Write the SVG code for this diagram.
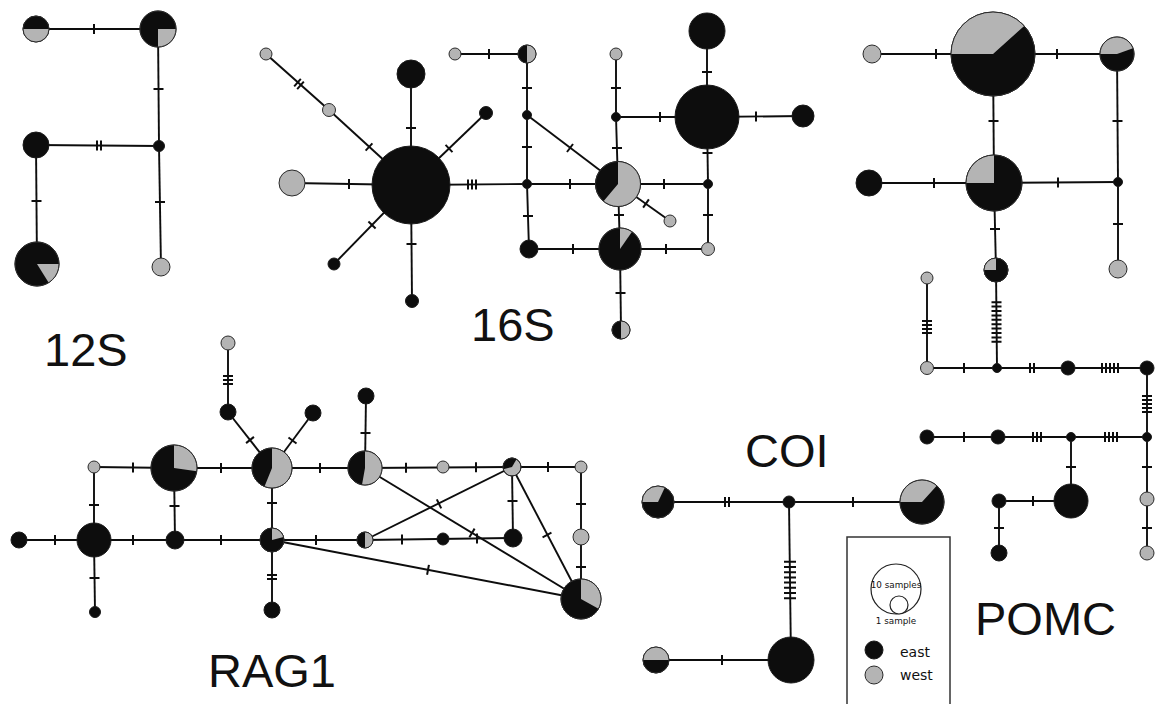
<svg xmlns="http://www.w3.org/2000/svg" xmlns:xlink="http://www.w3.org/1999/xlink" width="1161" height="704" viewBox="0 0 1161 704">
  <style>
    .e line { stroke: #0d0d0d; stroke-width: 1.9; fill: none; }
    .tk { stroke: #0d0d0d; stroke-width: 2; fill: none; }
    .k { fill: #0d0d0d; stroke: #1a1a1a; stroke-width: 1; }
    .g { fill: #b4b4b4; stroke: #2a2a2a; stroke-width: 1; }
    .w { fill: #b4b4b4; stroke: none; }
    .wk { fill: #0d0d0d; stroke: none; }
    .o { fill: none; stroke: #2a2a2a; stroke-width: 1; }
    .lbl { font-family: "Liberation Sans", Arial, sans-serif; font-size: 47px; fill: #111; }
    .sm { font-family: "DejaVu Sans", Verdana, sans-serif; font-size: 8.8px; fill: #111; text-anchor: middle; }
    .lg { font-family: "DejaVu Sans", Verdana, sans-serif; font-size: 14px; fill: #111; }
  </style>
  <defs>
    <path id="t1" d="M0,-5V5"/>
    <path id="t2" d="M-2,-5V5M2,-5V5"/>
    <path id="t3" d="M-4,-5V5M0,-5V5M4,-5V5"/>
    <path id="t4" d="M-6,-5V5M-2,-5V5M2,-5V5M6,-5V5"/>
    <path id="t5" d="M-8,-5V5M-4,-5V5M0,-5V5M4,-5V5M8,-5V5"/>
    <path id="t8" d="M-18.2,-6V6M-13,-6V6M-7.8,-6V6M-2.6,-6V6M2.6,-6V6M7.8,-6V6M13,-6V6M18.2,-6V6"/>
    <path id="t10" d="M-19.8,-5V5M-15.4,-5V5M-11,-5V5M-6.6,-5V5M-2.2,-5V5M2.2,-5V5M6.6,-5V5M11,-5V5M15.4,-5V5M19.8,-5V5"/>
  </defs>
  <rect width="1161" height="704" fill="#fff"/>

  <!-- ===== connectors ===== -->
  <g id="connectors">
    <g class="e">
      <!-- 12S -->
      <line x1="36" y1="29" x2="158" y2="29"/>
      <line x1="158" y1="29" x2="159" y2="146"/>
      <line x1="36" y1="145" x2="159" y2="146"/>
      <line x1="159" y1="146" x2="161" y2="267"/>
      <line x1="36" y1="145" x2="37" y2="264"/>
      <!-- 16S -->
      <line x1="411" y1="185" x2="411" y2="74"/>
      <line x1="411" y1="185" x2="292" y2="183"/>
      <line x1="266" y1="54" x2="329" y2="110"/>
      <line x1="329" y1="110" x2="411" y2="185"/>
      <line x1="411" y1="185" x2="334" y2="264"/>
      <line x1="411" y1="185" x2="412" y2="301"/>
      <line x1="411" y1="185" x2="486" y2="113"/>
      <line x1="411" y1="185" x2="527" y2="184"/>
      <line x1="455" y1="54" x2="527" y2="54"/>
      <line x1="527" y1="54" x2="527" y2="115"/>
      <line x1="527" y1="115" x2="527" y2="184"/>
      <line x1="527" y1="184" x2="529" y2="249"/>
      <line x1="527" y1="184" x2="618" y2="184"/>
      <line x1="527" y1="115" x2="618" y2="184"/>
      <line x1="616" y1="54" x2="616" y2="117"/>
      <line x1="616" y1="117" x2="707" y2="117"/>
      <line x1="616" y1="117" x2="618" y2="184"/>
      <line x1="618" y1="184" x2="708" y2="184"/>
      <line x1="618" y1="184" x2="670" y2="221"/>
      <line x1="618" y1="184" x2="620" y2="249"/>
      <line x1="529" y1="249" x2="620" y2="249"/>
      <line x1="620" y1="249" x2="708" y2="249"/>
      <line x1="708" y1="184" x2="708" y2="249"/>
      <line x1="708" y1="184" x2="707" y2="117"/>
      <line x1="707" y1="117" x2="707" y2="31"/>
      <line x1="707" y1="117" x2="803" y2="116"/>
      <line x1="620" y1="249" x2="621" y2="330"/>
      <!-- POMC -->
      <line x1="872" y1="54" x2="993" y2="54"/>
      <line x1="993" y1="54" x2="1117" y2="54"/>
      <line x1="993" y1="54" x2="994" y2="183"/>
      <line x1="1117" y1="54" x2="1118" y2="182"/>
      <line x1="994" y1="183" x2="1118" y2="182"/>
      <line x1="869" y1="183" x2="994" y2="183"/>
      <line x1="1118" y1="182" x2="1118" y2="269"/>
      <line x1="994" y1="183" x2="996" y2="270"/>
      <line x1="927" y1="278" x2="927" y2="368"/>
      <line x1="996" y1="270" x2="997" y2="368"/>
      <line x1="927" y1="368" x2="1147" y2="368"/>
      <line x1="1147" y1="368" x2="1147" y2="553"/>
      <line x1="927" y1="437" x2="1147" y2="437"/>
      <line x1="1071" y1="437" x2="1071" y2="501"/>
      <line x1="1071" y1="501" x2="999" y2="501"/>
      <line x1="999" y1="501" x2="999" y2="553"/>
      <!-- COI -->
      <line x1="658" y1="502" x2="922" y2="502"/>
      <line x1="789" y1="502" x2="791" y2="660"/>
      <line x1="656" y1="660" x2="791" y2="660"/>
      <!-- RAG1 -->
      <line x1="228" y1="343" x2="228" y2="412"/>
      <line x1="228" y1="412" x2="272" y2="468"/>
      <line x1="313" y1="413" x2="272" y2="468"/>
      <line x1="94" y1="467" x2="174" y2="468"/>
      <line x1="174" y1="468" x2="272" y2="468"/>
      <line x1="94" y1="467" x2="94" y2="540"/>
      <line x1="19" y1="540" x2="94" y2="540"/>
      <line x1="94" y1="540" x2="175" y2="540"/>
      <line x1="174" y1="468" x2="175" y2="540"/>
      <line x1="94" y1="540" x2="95" y2="612"/>
      <line x1="175" y1="540" x2="272" y2="540"/>
      <line x1="272" y1="468" x2="272" y2="540"/>
      <line x1="272" y1="540" x2="272" y2="610"/>
      <line x1="272" y1="468" x2="365" y2="468"/>
      <line x1="272" y1="540" x2="365" y2="540"/>
      <line x1="272" y1="540" x2="581" y2="599"/>
      <line x1="366" y1="396" x2="365" y2="468"/>
      <line x1="365" y1="468" x2="512" y2="467"/>
      <line x1="512" y1="467" x2="581" y2="467"/>
      <line x1="581" y1="467" x2="581" y2="599"/>
      <line x1="512" y1="467" x2="513" y2="538"/>
      <line x1="512" y1="467" x2="581" y2="599"/>
      <line x1="365" y1="540" x2="513" y2="538"/>
      <line x1="365" y1="468" x2="581" y2="599"/>
      <line x1="365" y1="540" x2="512" y2="467"/>
    </g>
    <!-- mutation ticks -->
    <g class="tk">
      <!-- 12S -->
      <use xlink:href="#t1" transform="translate(94,29)"/>
      <use xlink:href="#t1" transform="translate(158.5,89) rotate(90)"/>
      <use xlink:href="#t2" transform="translate(99,145.5)"/>
      <use xlink:href="#t1" transform="translate(160,202) rotate(90)"/>
      <use xlink:href="#t1" transform="translate(36.5,201) rotate(90)"/>
      <!-- 16S -->
      <use xlink:href="#t1" transform="translate(411,128) rotate(90)"/>
      <use xlink:href="#t1" transform="translate(349,184)"/>
      <use xlink:href="#t2" transform="translate(299,84) rotate(41.6)"/>
      <use xlink:href="#t1" transform="translate(369,147) rotate(42.4)"/>
      <use xlink:href="#t1" transform="translate(372,225) rotate(134.3)"/>
      <use xlink:href="#t1" transform="translate(411.5,244) rotate(90)"/>
      <use xlink:href="#t1" transform="translate(449,148.5) rotate(-43.8)"/>
      <use xlink:href="#t3" transform="translate(472,184.5)"/>
      <use xlink:href="#t1" transform="translate(489,54)"/>
      <use xlink:href="#t1" transform="translate(527,88) rotate(90)"/>
      <use xlink:href="#t1" transform="translate(527,147) rotate(90)"/>
      <use xlink:href="#t1" transform="translate(528,216) rotate(90)"/>
      <use xlink:href="#t1" transform="translate(570,184)"/>
      <use xlink:href="#t1" transform="translate(570,148) rotate(37.2)"/>
      <use xlink:href="#t1" transform="translate(616,88) rotate(90)"/>
      <use xlink:href="#t1" transform="translate(660,117)"/>
      <use xlink:href="#t1" transform="translate(617,148) rotate(90)"/>
      <use xlink:href="#t1" transform="translate(664,184)"/>
      <use xlink:href="#t1" transform="translate(646,203.5) rotate(35.4)"/>
      <use xlink:href="#t1" transform="translate(619,215) rotate(90)"/>
      <use xlink:href="#t1" transform="translate(573,249)"/>
      <use xlink:href="#t1" transform="translate(666,249)"/>
      <use xlink:href="#t1" transform="translate(708,215) rotate(90)"/>
      <use xlink:href="#t1" transform="translate(707.5,153) rotate(90)"/>
      <use xlink:href="#t1" transform="translate(707,72) rotate(90)"/>
      <use xlink:href="#t1" transform="translate(756,116.5)"/>
      <use xlink:href="#t1" transform="translate(620.5,293) rotate(90)"/>
      <!-- POMC -->
      <use xlink:href="#t1" transform="translate(936,54)"/>
      <use xlink:href="#t1" transform="translate(1057,54)"/>
      <use xlink:href="#t1" transform="translate(993.5,121) rotate(90)"/>
      <use xlink:href="#t1" transform="translate(1117.5,121) rotate(90)"/>
      <use xlink:href="#t1" transform="translate(1058,182.5)"/>
      <use xlink:href="#t1" transform="translate(934,183)"/>
      <use xlink:href="#t1" transform="translate(1118,224) rotate(90)"/>
      <use xlink:href="#t1" transform="translate(995,229) rotate(90)"/>
      <use xlink:href="#t4" transform="translate(927,327) rotate(90)"/>
      <use xlink:href="#t10" transform="translate(996.5,322) rotate(90)"/>
      <use xlink:href="#t1" transform="translate(964,368)"/>
      <use xlink:href="#t2" transform="translate(1032,368)"/>
      <use xlink:href="#t5" transform="translate(1110,368)"/>
      <use xlink:href="#t5" transform="translate(1147,404) rotate(90)"/>
      <use xlink:href="#t1" transform="translate(964,437)"/>
      <use xlink:href="#t3" transform="translate(1037,437)"/>
      <use xlink:href="#t4" transform="translate(1111,437)"/>
      <use xlink:href="#t1" transform="translate(1071,467) rotate(90)"/>
      <use xlink:href="#t1" transform="translate(1033,501)"/>
      <use xlink:href="#t1" transform="translate(999,528) rotate(90)"/>
      <use xlink:href="#t1" transform="translate(1147,467) rotate(90)"/>
      <use xlink:href="#t1" transform="translate(1147,528) rotate(90)"/>
      <!-- COI -->
      <use xlink:href="#t2" transform="translate(727,502)"/>
      <use xlink:href="#t1" transform="translate(853,502)"/>
      <use xlink:href="#t8" transform="translate(790,580) rotate(90)"/>
      <use xlink:href="#t1" transform="translate(722,660)"/>
      <!-- RAG1 -->
      <use xlink:href="#t3" transform="translate(228,380) rotate(90)"/>
      <use xlink:href="#t1" transform="translate(250,440) rotate(51.8)"/>
      <use xlink:href="#t1" transform="translate(292.5,440.5) rotate(126.7)"/>
      <use xlink:href="#t1" transform="translate(133,467.5)"/>
      <use xlink:href="#t1" transform="translate(221,468)"/>
      <use xlink:href="#t1" transform="translate(94,505) rotate(90)"/>
      <use xlink:href="#t1" transform="translate(55,540)"/>
      <use xlink:href="#t1" transform="translate(133,540)"/>
      <use xlink:href="#t1" transform="translate(174.5,506) rotate(90)"/>
      <use xlink:href="#t1" transform="translate(94.5,578) rotate(90)"/>
      <use xlink:href="#t1" transform="translate(221,540)"/>
      <use xlink:href="#t1" transform="translate(272,503) rotate(90)"/>
      <use xlink:href="#t2" transform="translate(272,577) rotate(90)"/>
      <use xlink:href="#t1" transform="translate(320,468)"/>
      <use xlink:href="#t1" transform="translate(316,540)"/>
      <use xlink:href="#t1" transform="translate(428,569.8) rotate(10.8)"/>
      <use xlink:href="#t1" transform="translate(365.5,433) rotate(90)"/>
      <use xlink:href="#t1" transform="translate(406,467.7)"/>
      <use xlink:href="#t1" transform="translate(476,467.2)"/>
      <use xlink:href="#t1" transform="translate(548,467)"/>
      <use xlink:href="#t1" transform="translate(581,504) rotate(90)"/>
      <use xlink:href="#t1" transform="translate(581,567) rotate(90)"/>
      <use xlink:href="#t1" transform="translate(512.5,501) rotate(90)"/>
      <use xlink:href="#t1" transform="translate(547,535) rotate(62.4)"/>
      <use xlink:href="#t1" transform="translate(402,539.5)"/>
      <use xlink:href="#t1" transform="translate(477,538.5)"/>
      <use xlink:href="#t1" transform="translate(472,532.9) rotate(31.2)"/>
      <use xlink:href="#t1" transform="translate(439,503.9) rotate(-26.4)"/>
    </g>
  </g>

  <!-- ===== 12S haplotypes ===== -->
  <g id="s12-a"><circle class="k" cx="36" cy="29" r="13"/><path class="w" d="M36 29 L49 29 A13 13 0 0 1 23 29 Z"/><circle class="o" cx="36" cy="29" r="13"/></g>
  <g id="s12-b"><circle class="k" cx="158" cy="29" r="18"/><path class="w" d="M158 29 L176 29 A18 18 0 0 1 158 47 Z"/><circle class="o" cx="158" cy="29" r="18"/></g>
  <g id="s12-c"><circle class="k" cx="36" cy="145" r="13"/></g>
  <g id="s12-d"><circle class="k" cx="37" cy="264" r="22"/><path class="w" d="M37 264 L59 264 A22 22 0 0 1 48.7 282.7 Z"/><circle class="o" cx="37" cy="264" r="22"/></g>
  <g id="s12-j"><circle class="k" cx="159" cy="146" r="5.5"/></g>
  <g id="s12-e"><circle class="g" cx="161" cy="267" r="9"/></g>

  <!-- ===== 16S haplotypes ===== -->
  <g id="s16-hub"><circle class="k" cx="411" cy="185" r="39"/></g>
  <g id="s16-top"><circle class="k" cx="411" cy="74" r="14"/></g>
  <g id="s16-left"><circle class="g" cx="292" cy="183" r="13"/></g>
  <g id="s16-g1"><circle class="g" cx="266" cy="54" r="6"/></g>
  <g id="s16-g2"><circle class="g" cx="329" cy="110" r="6.5"/></g>
  <g id="s16-ll"><circle class="k" cx="334" cy="264" r="6"/></g>
  <g id="s16-bot"><circle class="k" cx="412" cy="301" r="6.5"/></g>
  <g id="s16-ur"><circle class="k" cx="486" cy="113" r="6.5"/></g>
  <g id="s16-j1"><circle class="k" cx="527" cy="115" r="4.5"/></g>
  <g id="s16-j2"><circle class="k" cx="527" cy="184" r="4.5"/></g>
  <g id="s16-gs"><circle class="g" cx="455" cy="54" r="6"/></g>
  <g id="s16-h1"><circle class="k" cx="527" cy="54" r="9"/><path class="w" d="M527 54 L527 45 A9 9 0 0 1 527 63 Z"/><circle class="o" cx="527" cy="54" r="9"/></g>
  <g id="s16-k"><circle class="k" cx="529" cy="249" r="9"/></g>
  <g id="s16-j3"><circle class="k" cx="616" cy="117" r="4.5"/></g>
  <g id="s16-g3"><circle class="g" cx="616" cy="54" r="6"/></g>
  <g id="s16-p1"><circle class="k" cx="618" cy="184" r="22.5"/><path class="w" d="M618 184 L618 161.5 A22.5 22.5 0 1 1 603.5 201.2 Z"/><circle class="o" cx="618" cy="184" r="22.5"/></g>
  <g id="s16-j4"><circle class="k" cx="708" cy="184" r="4.5"/></g>
  <g id="s16-g4"><circle class="g" cx="670" cy="221" r="6"/></g>
  <g id="s16-p2"><circle class="k" cx="620" cy="249" r="21"/><path class="w" d="M620 249 L620 228 A21 21 0 0 1 632 231.8 Z"/><circle class="o" cx="620" cy="249" r="21"/></g>
  <g id="s16-g5"><circle class="g" cx="708" cy="249" r="6.5"/></g>
  <g id="s16-bb"><circle class="k" cx="707" cy="117" r="32"/></g>
  <g id="s16-bt"><circle class="k" cx="707" cy="31" r="18"/></g>
  <g id="s16-br"><circle class="k" cx="803" cy="116" r="11"/></g>
  <g id="s16-h2"><circle class="k" cx="621" cy="330" r="9"/><path class="w" d="M621 330 L621 321 A9 9 0 0 1 621 339 Z"/><circle class="o" cx="621" cy="330" r="9"/></g>

  <!-- ===== POMC haplotypes ===== -->
  <g id="pomc-gl"><circle class="g" cx="872" cy="54" r="9"/></g>
  <g id="pomc-big"><circle class="k" cx="993" cy="54" r="42"/><path class="w" d="M993 54 L951 54 A42 42 0 0 1 1024.2 25.9 Z"/><circle class="o" cx="993" cy="54" r="42"/></g>
  <g id="pomc-rp"><circle class="k" cx="1117" cy="54" r="17"/><path class="w" d="M1117 54 L1100 54 A17 17 0 0 1 1133 48.2 Z"/><circle class="o" cx="1117" cy="54" r="17"/></g>
  <g id="pomc-mp"><circle class="k" cx="994" cy="183" r="28"/><path class="w" d="M994 183 L966 183 A28 28 0 0 1 994 155 Z"/><circle class="o" cx="994" cy="183" r="28"/></g>
  <g id="pomc-kl"><circle class="k" cx="869" cy="183" r="13"/></g>
  <g id="pomc-j1"><circle class="k" cx="1118" cy="182" r="4.5"/></g>
  <g id="pomc-g2"><circle class="g" cx="1118" cy="269" r="9"/></g>
  <g id="pomc-sp"><circle class="k" cx="996" cy="270" r="12"/><path class="w" d="M996 270 L984 270 A12 12 0 0 1 996 258 Z"/><circle class="o" cx="996" cy="270" r="12"/></g>
  <g id="pomc-g3"><circle class="g" cx="927" cy="278" r="6"/></g>
  <g id="pomc-g4"><circle class="g" cx="927" cy="368" r="6.5"/></g>
  <g id="pomc-j2"><circle class="k" cx="997" cy="368" r="4.5"/></g>
  <g id="pomc-k1"><circle class="k" cx="1068" cy="368" r="7"/></g>
  <g id="pomc-k2"><circle class="k" cx="1147" cy="368" r="7"/></g>
  <g id="pomc-j3"><circle class="k" cx="1147" cy="437" r="4.5"/></g>
  <g id="pomc-k3"><circle class="k" cx="927" cy="437" r="7"/></g>
  <g id="pomc-k4"><circle class="k" cx="998" cy="437" r="7"/></g>
  <g id="pomc-j4"><circle class="k" cx="1071" cy="437" r="4.5"/></g>
  <g id="pomc-k5"><circle class="k" cx="1071" cy="501" r="17"/></g>
  <g id="pomc-k6"><circle class="k" cx="999" cy="501" r="7"/></g>
  <g id="pomc-k7"><circle class="k" cx="999" cy="553" r="8"/></g>
  <g id="pomc-g5"><circle class="g" cx="1147" cy="499" r="7"/></g>
  <g id="pomc-g6"><circle class="g" cx="1147" cy="553" r="7"/></g>

  <!-- ===== COI haplotypes ===== -->
  <g id="coi-l"><circle class="k" cx="658" cy="502" r="16"/><path class="w" d="M658 502 L642 502 A16 16 0 0 1 664.8 487.5 Z"/><circle class="o" cx="658" cy="502" r="16"/></g>
  <g id="coi-j"><circle class="k" cx="789" cy="502" r="6"/></g>
  <g id="coi-r"><circle class="k" cx="922" cy="502" r="22"/><path class="w" d="M922 502 L900 502 A22 22 0 0 1 936.7 485.7 Z"/><circle class="o" cx="922" cy="502" r="22"/></g>
  <g id="coi-big"><circle class="k" cx="791" cy="660" r="23"/></g>
  <g id="coi-bl"><circle class="k" cx="656" cy="660" r="13"/><path class="w" d="M656 660 L643 660 A13 13 0 0 1 669 660 Z"/><circle class="o" cx="656" cy="660" r="13"/></g>

  <!-- ===== RAG1 haplotypes ===== -->
  <g id="rag-gt"><circle class="g" cx="228" cy="343" r="7"/></g>
  <g id="rag-b1"><circle class="k" cx="228" cy="412" r="8"/></g>
  <g id="rag-b2"><circle class="k" cx="313" cy="413" r="8"/></g>
  <g id="rag-pa"><circle class="k" cx="272" cy="468" r="20"/><path class="w" d="M272 468 L272 448 A20 20 0 1 1 264.5 486.5 Z"/><circle class="o" cx="272" cy="468" r="20"/></g>
  <g id="rag-pb"><circle class="k" cx="174" cy="468" r="23"/><path class="w" d="M174 468 L174 445 A23 23 0 0 1 196.8 471.2 Z"/><circle class="o" cx="174" cy="468" r="23"/></g>
  <g id="rag-gs"><circle class="g" cx="94" cy="467" r="6"/></g>
  <g id="rag-bk"><circle class="k" cx="94" cy="540" r="17"/></g>
  <g id="rag-bl"><circle class="k" cx="19" cy="540" r="8"/></g>
  <g id="rag-b175"><circle class="k" cx="175" cy="540" r="9"/></g>
  <g id="rag-bs"><circle class="k" cx="95" cy="612" r="5.5"/></g>
  <g id="rag-p3"><circle class="k" cx="272" cy="540" r="12"/><path class="w" d="M272 540 L272 528 A12 12 0 0 1 283.6 536.9 Z"/><circle class="o" cx="272" cy="540" r="12"/></g>
  <g id="rag-b610"><circle class="k" cx="272" cy="610" r="8"/></g>
  <g id="rag-p4"><circle class="k" cx="365" cy="468" r="17"/><path class="w" d="M365 468 L365 451 A17 17 0 1 1 362 484.7 Z"/><circle class="o" cx="365" cy="468" r="17"/></g>
  <g id="rag-hh"><circle class="k" cx="365" cy="540" r="8"/><path class="w" d="M365 540 L365 532 A8 8 0 0 1 365 548 Z"/><circle class="o" cx="365" cy="540" r="8"/></g>
  <g id="rag-bt"><circle class="k" cx="366" cy="396" r="8"/></g>
  <g id="rag-g443"><circle class="g" cx="443" cy="467" r="6"/></g>
  <g id="rag-p5"><circle class="g" cx="512" cy="467" r="9"/><path class="wk" d="M512 467 L503.3 469.3 A9 9 0 0 1 516.5 459.2 Z"/><circle class="o" cx="512" cy="467" r="9"/></g>
  <g id="rag-g581"><circle class="g" cx="581" cy="467" r="6"/></g>
  <g id="rag-g537"><circle class="g" cx="581" cy="537" r="8"/></g>
  <g id="rag-b513"><circle class="k" cx="513" cy="538" r="9"/></g>
  <g id="rag-bs443"><circle class="k" cx="443" cy="539" r="6"/></g>
  <g id="rag-big"><circle class="k" cx="581" cy="599" r="20"/><path class="w" d="M581 599 L581 579 A20 20 0 0 1 598.5 608.7 Z"/><circle class="o" cx="581" cy="599" r="20"/></g>

  <!-- ===== legend ===== -->
  <g id="legend">
    <rect x="847" y="537" width="103" height="180" fill="#fff" stroke="#333" stroke-width="1.5"/>
    <circle cx="896" cy="589" r="25" fill="none" stroke="#222" stroke-width="1.2"/>
    <circle cx="899" cy="605" r="9" fill="#fff" stroke="#222" stroke-width="1.2"/>
    <text class="sm" x="896" y="588">10 samples</text>
    <text class="sm" x="896" y="624">1 sample</text>
    <circle class="k" cx="874" cy="650" r="9"/>
    <circle class="g" cx="874" cy="675" r="9"/>
    <text class="lg" x="900" y="657">east</text>
    <text class="lg" x="900" y="680">west</text>
  </g>

  <!-- ===== marker labels ===== -->
  <g id="labels">
    <text class="lbl" x="44" y="366">12S</text>
    <text class="lbl" x="471" y="341">16S</text>
    <text class="lbl" x="745" y="467">COI</text>
    <text class="lbl" x="975" y="635">POMC</text>
    <text class="lbl" x="208" y="687">RAG1</text>
  </g>
</svg>
